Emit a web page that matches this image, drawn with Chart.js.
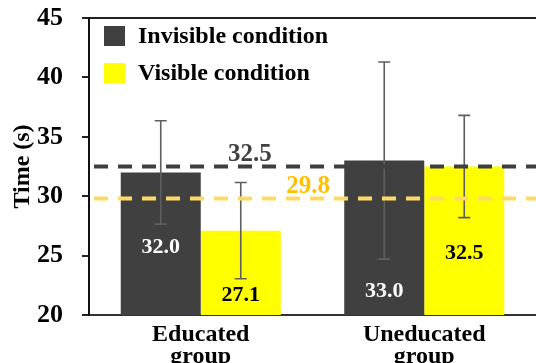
<!DOCTYPE html>
<html lang="en">
<head>
    <meta charset="UTF-8">
    <title>Time by group and condition</title>
    <script src="https://cdn.jsdelivr.net/npm/chart.js"></script>
    <style>
        body {
            margin: 0;
            padding: 0;
            background: #ffffff;
        }
        #chart {
            display: block;
        }
    </style>
</head>
<body>
    <canvas id="chart" width="536" height="363"></canvas>
    <script>
        // data
        const groups = [['Educated', 'group'], ['Uneducated', 'group']];
        const seriesNames = ['Invisible condition', 'Visible condition'];
        const invisibleMeans = [32.0, 33.0];
        const visibleMeans = [27.1, 32.5];
        const invisibleSD = [4.35, 8.3];
        const visibleSD = [4.05, 4.3];
        const overallMeans = [32.5, 29.8]; // invisible, visible
        const yTicks = [20, 25, 30, 35, 40, 45];

        const FONT = "'Liberation Serif', 'Times New Roman', serif";
        const DARK = '#404040';
        const YELLOW = '#ffff00';

        // error bars drawn from the bar elements + y scale
        const errorBars = {
            id: 'errorBars',
            afterDatasetsDraw(chart) {
                const ctx = chart.ctx;
                const y = chart.scales.y;
                const sds = [invisibleSD, visibleSD];
                ctx.save();
                ctx.strokeStyle = '#5f5f5f';
                ctx.lineWidth = 1.6;
                chart.data.datasets.forEach((ds, di) => {
                    chart.getDatasetMeta(di).data.forEach((bar, i) => {
                        const top = y.getPixelForValue(ds.data[i] + sds[di][i]);
                        const bot = y.getPixelForValue(ds.data[i] - sds[di][i]);
                        ctx.beginPath();
                        ctx.moveTo(bar.x, top);
                        ctx.lineTo(bar.x, bot);
                        ctx.moveTo(bar.x - 6, top);
                        ctx.lineTo(bar.x + 6, top);
                        ctx.moveTo(bar.x - 6, bot);
                        ctx.lineTo(bar.x + 6, bot);
                        ctx.stroke();
                    });
                });
                ctx.restore();
            }
        };

        // value labels inside the bars (baseline given in axis units)
        const valueLabels = {
            id: 'valueLabels',
            afterDatasetsDraw(chart, args, opts) {
                const ctx = chart.ctx;
                const y = chart.scales.y;
                ctx.save();
                ctx.font = 'bold 22px ' + FONT;
                ctx.textAlign = 'center';
                ctx.textBaseline = 'alphabetic';
                chart.data.datasets.forEach((ds, di) => {
                    chart.getDatasetMeta(di).data.forEach((bar, i) => {
                        ctx.fillStyle = opts.colors[di];
                        ctx.fillText(ds.data[i].toFixed(1), bar.x, y.getPixelForValue(opts.baselines[di][i]));
                    });
                });
                ctx.restore();
            }
        };

        // dashed overall-mean lines with their labels
        const meanLinePlugin = {
            id: 'meanLines',
            afterDatasetsDraw(chart, args, opts) {
                const ctx = chart.ctx;
                const area = chart.chartArea;
                const y = chart.scales.y;
                ctx.save();
                overallMeans.forEach((m, i) => {
                    const py = y.getPixelForValue(m);
                    ctx.strokeStyle = opts.lineColors[i];
                    ctx.lineWidth = 4;
                    ctx.setLineDash([14, 10]);
                    ctx.beginPath();
                    ctx.moveTo(area.left + 5, py);
                    ctx.lineTo(area.right, py);
                    ctx.stroke();
                    ctx.setLineDash([]);
                    ctx.fillStyle = opts.textColors[i];
                    ctx.font = 'bold 25px ' + FONT;
                    ctx.textAlign = 'center';
                    ctx.textBaseline = 'alphabetic';
                    const px = area.left + opts.labelX[i] * (area.right - area.left);
                    ctx.fillText(m.toFixed(1), px, py - 6);
                });
                ctx.restore();
            }
        };

        // legend boxes in the upper-left of the plot
        const legendBox = {
            id: 'legendBox',
            afterDraw(chart) {
                const ctx = chart.ctx;
                const area = chart.chartArea;
                ctx.save();
                ctx.font = 'bold 24px ' + FONT;
                ctx.textBaseline = 'middle';
                ctx.textAlign = 'left';
                chart.data.datasets.forEach((ds, i) => {
                    const top = area.top + 8 + i * 37;
                    ctx.fillStyle = ds.backgroundColor;
                    ctx.fillRect(area.left + 15, top, 21, 20);
                    ctx.fillStyle = '#000';
                    ctx.fillText(ds.label, area.left + 49, top + 11);
                });
                ctx.restore();
            }
        };

        new Chart(document.getElementById('chart'), {
            type: 'bar',
            data: {
                labels: groups,
                datasets: [
                    {
                        label: seriesNames[0],
                        data: invisibleMeans,
                        backgroundColor: DARK,
                        categoryPercentage: 0.716,
                        barPercentage: 1.0
                    },
                    {
                        label: seriesNames[1],
                        data: visibleMeans,
                        backgroundColor: YELLOW,
                        categoryPercentage: 0.716,
                        barPercentage: 1.0
                    }
                ]
            },
            options: {
                responsive: false,
                animation: false,
                layout: {
                    padding: { top: 18, right: 0, bottom: 0, left: 0 }
                },
                scales: {
                    x: {
                        grid: { display: false },
                        border: { display: true, color: '#333', width: 2 },
                        ticks: {
                            color: '#000',
                            padding: 1,
                            font: { family: FONT, size: 24, weight: 'bold', lineHeight: 0.92 }
                        },
                        afterFit(scale) {
                            scale.height = 48;
                            scale.paddingLeft = 0;
                            scale.paddingRight = 0;
                        }
                    },
                    y: {
                        min: 20,
                        max: 45,
                        afterBuildTicks(scale) {
                            scale.ticks = yTicks.map(v => ({ value: v }));
                        },
                        grid: {
                            drawOnChartArea: true,
                            tickLength: 7,
                            tickColor: '#222',
                            lineWidth: 2,
                            color: ctx => ctx.tick && ctx.tick.value === 45 ? '#222' : 'rgba(0,0,0,0)'
                        },
                        border: { display: true, color: '#111', width: 2 },
                        ticks: {
                            color: '#000',
                            padding: 19,
                            font: { family: FONT, size: 26, weight: 'bold' }
                        },
                        title: {
                            display: true,
                            text: 'Time (s)',
                            color: '#000',
                            padding: { top: 8, bottom: 0 },
                            font: { family: FONT, size: 24, weight: 'bold' }
                        },
                        afterFit(scale) {
                            scale.width = 89;
                            scale.paddingTop = 0;
                            scale.paddingBottom = 0;
                        }
                    }
                },
                plugins: {
                    legend: { display: false },
                    tooltip: { enabled: false },
                    valueLabels: {
                        colors: ['#ffffff', '#000000'],
                        baselines: [[25.24, 21.54], [21.2, 24.71]]
                    },
                    meanLines: {
                        lineColors: ['#3f3f3f', '#ffd966'],
                        textColors: ['#404040', '#ffc000'],
                        labelX: [0.36, 0.49]
                    }
                }
            },
            plugins: [errorBars, valueLabels, meanLinePlugin, legendBox]
        });
    </script>
</body>
</html>
